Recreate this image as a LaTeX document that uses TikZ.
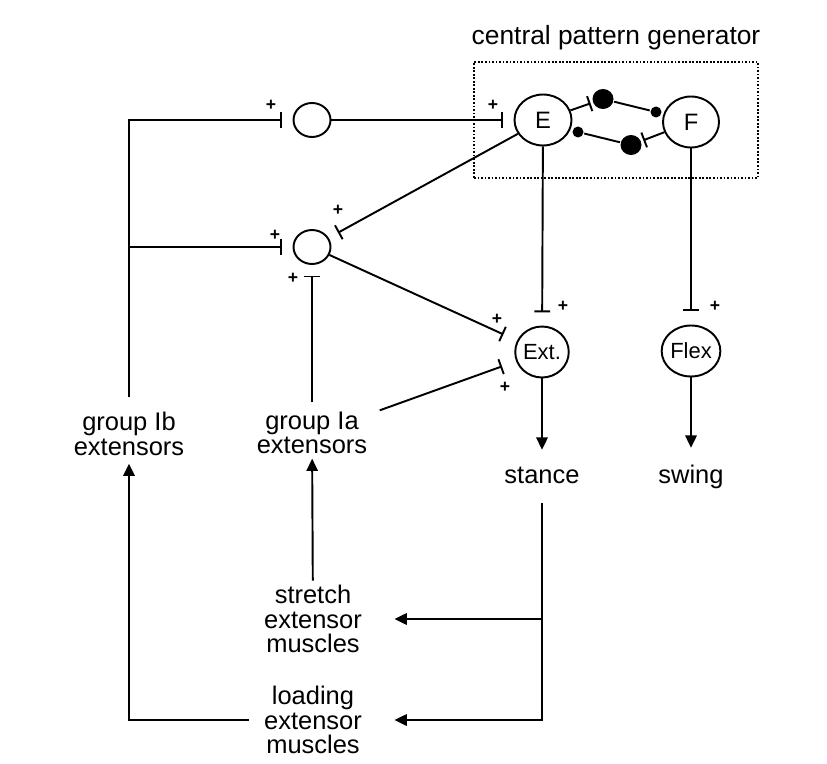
\documentclass[tikz,border=0pt]{standalone}
\usepackage{fontspec}
\setmainfont{Liberation Sans}
\usetikzlibrary{arrows.meta,positioning,shapes.geometric}

\begin{document}
\begin{tikzpicture}[x=0.02cm, y=-0.02cm, line width=1.1pt,
  cell/.style={ellipse,draw,inner sep=0pt,font=\fontsize{12.5}{13}\selectfont},
  inter node/.style={ellipse,draw,minimum width=0.74cm,minimum height=0.68cm,inner sep=0pt},
  label node/.style={align=center,inner sep=2pt,font=\fontsize{14.5}{14}\selectfont},
  plus/.style={inner sep=0pt,font=\fontsize{10}{10}\selectfont\bfseries},
  dot/.style={ellipse,fill=black,inner sep=0pt},
  excite/.style={-{Bar[width=9pt]},shorten >=6pt},
  arrow/.style={-{Triangle[length=7pt,width=6.5pt]}}]
\useasboundingbox (0,0) rectangle (827,763);
\begin{scope}
\node[label node,font=\fontsize{15}{15}\selectfont] (title) at (616,38) {central pattern generator};
\node[draw,densely dotted,line width=1pt,minimum width=5.68cm,minimum height=2.32cm] (cpg) at (616,120) {};
\node[cell,minimum width=1.14cm,minimum height=1.02cm,font=\fontsize{13.5}{14}\selectfont] (E) at (543,120) {E};
\node[cell,minimum width=1.12cm,minimum height=1.02cm,font=\fontsize{13.5}{14}\selectfont] (F) at (691,122) {F};
\node[dot,minimum width=0.42cm,minimum height=0.40cm] (ih1) at (603,99) {};
\node[dot,minimum size=0.22cm] (sd1) at (656,112) {};
\node[dot,minimum width=0.42cm,minimum height=0.40cm] (ih2) at (631,145) {};
\node[dot,minimum size=0.22cm] (sd2) at (578,132) {};
\node[inter node] (int1) at (312,120) {};
\node[inter node] (int2) at (312,247) {};
\node[cell,minimum width=1.06cm,minimum height=1.02cm] (Ext) at (542,352) {Ext.};
\node[cell,minimum width=1.16cm,minimum height=1.02cm] (Flex) at (691,351) {Flex};
\node[label node] (Ib) at (129,434) {group Ib\\extensors};
\node[label node] (Ia) at (312,433) {group Ia\\extensors};
\node[label node,anchor=base] (stance) at (542,483) {stance};
\node[label node,anchor=base] (swing) at (691,483) {swing};
\node[label node] (stretch) at (313,619) {stretch\\extensor\\muscles};
\node[label node] (load) at (313,720) {loading\\extensor\\muscles};
\end{scope}
\begin{scope}[every node/.style=plus]
\node (p1) at (271,105) {+};
\node (p2) at (493,105) {+};
\node (p3) at (275,235) {+};
\node (p4) at (338,210) {+};
\node (p5) at (293,278) {+};
\node (p6) at (497,319) {+};
\node (p7) at (505,387) {+};
\node (p8) at (563,306) {+};
\node (p9) at (715,306) {+};
\end{scope}
\begin{scope}
% half-centre coupling
\draw[excite,shorten >=1pt] (E) -- (ih1);
\draw (ih1) -- (sd1);
\draw[excite,shorten >=1pt] (F) -- (ih2);
\draw (ih2) -- (sd2);
% reflex pathways
\draw[excite,shorten <=6pt] (Ib.north) |- (int1);
\draw[excite] (Ib |- int2) -- (int2);
\draw[excite] (int1) -- (E);
\draw[excite] (E) -- (int2);
\draw[excite,shorten <=3pt] (Ia) -- (int2);
\draw[excite,shorten >=8.5pt] (int2) -- (Ext);
\draw[excite,shorten >=8.5pt] ([shift={(8,3)}]Ia.north east) -- (Ext);
\draw[excite,shorten >=7.5pt] (E) -- (Ext);
\draw[excite,shorten >=7.5pt] (F) -- (Flex);
\draw[arrow,shorten >=7pt] (Ext) -- (stance);
\draw[arrow,shorten >=7pt] (Flex) -- (swing);
% sensory feedback from stance
\draw[arrow,shorten <=8.5pt,shorten >=16pt] (stance) |- (load);
\draw[arrow,shorten >=16pt] (stance |- stretch) -- (stretch);
\draw[arrow] (stretch) -- (Ia);
\draw[arrow,shorten <=6pt,shorten >=2pt] (load.west) -| (Ib);
\end{scope}
\end{tikzpicture}
\end{document}
